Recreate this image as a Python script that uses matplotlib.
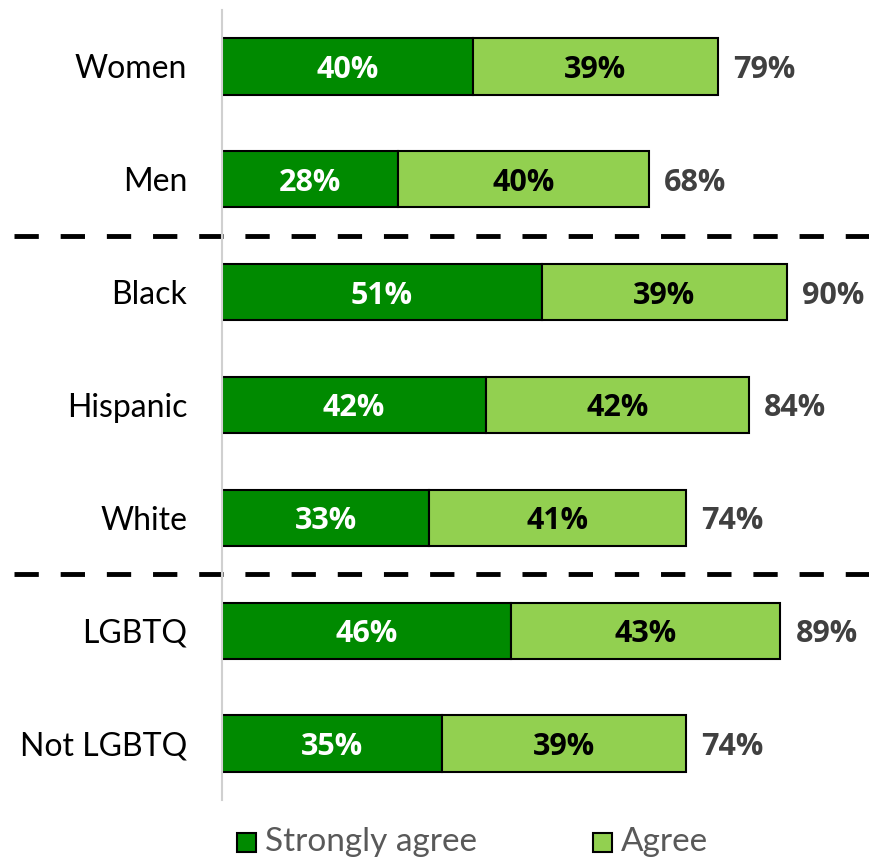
import matplotlib
matplotlib.use("Agg")
import matplotlib.pyplot as plt
from matplotlib.transforms import blended_transform_factory
from matplotlib.patches import Rectangle

plt.rcParams['font.family'] = ['Lato', 'DejaVu Sans']

categories = ["Women", "Men", "Black", "Hispanic", "White", "LGBTQ", "Not LGBTQ"]
strongly_agree = [40, 28, 51, 42, 33, 46, 35]
agree = [39, 40, 39, 42, 41, 43, 39]
totals = [79, 68, 90, 84, 74, 89, 74]
group_breaks = [1.5, 4.5]

dark_green = "#008A00"
light_green = "#92D050"

W, H = 869, 861
fig = plt.figure(figsize=(W / 100, H / 100), dpi=100)
ax = fig.add_axes([222 / W, 1 - 800 / H, 1 - 222 / W, 790 / H])

y = list(range(len(categories)))
ax.barh(y, strongly_agree, height=0.5, color=dark_green, edgecolor="black", linewidth=1.5)
ax.barh(y, agree, left=strongly_agree, height=0.5, color=light_green, edgecolor="black", linewidth=1.5)

fs = 23
bold = dict(fontsize=22, fontweight="bold", family=["Open Sans", "DejaVu Sans"])
dy = 0.03  # nudge labels to sit optically centred in the bars
for i in y:
    s, a, t = strongly_agree[i], agree[i], totals[i]
    ax.text(s / 2, i + dy, f"{s}%", ha="center", va="center", color="white", **bold)
    ax.text(s + a / 2, i + dy, f"{a}%", ha="center", va="center", color="black", **bold)
    ax.text(s + a + 2.4, i + dy, f"{t}%", ha="left", va="center", color="#404040", **bold)

ax.set_xlim(0, (W - 222) / 6.275)
ax.set_ylim(len(categories) - 0.5, -0.5)
ax.set_yticks(y)
ax.set_yticklabels(categories, fontsize=fs, color="black")
ax.tick_params(axis="y", length=0, pad=25)
ax.set_xticks([])
for side in ["top", "right", "bottom"]:
    ax.spines[side].set_visible(False)
ax.spines["left"].set_color("#D0D0D0")
ax.spines["left"].set_linewidth(1.5)

# dashed separators between groups, spanning the full figure width
trans = blended_transform_factory(fig.transFigure, ax.transData)
for yb in group_breaks:
    ax.plot([14 / W, 1.0], [yb, yb], transform=trans, color="black",
            linewidth=3.5, linestyle=(0, (5, 4.5)), clip_on=False)

# legend
ly = 1 - 842 / H
sq = 19
for x0, col, label in [(237, dark_green, "Strongly agree"), (593, light_green, "Agree")]:
    fig.patches.append(Rectangle((x0 / W, ly - sq / 2 / H), sq / W, sq / H,
                                 transform=fig.transFigure, facecolor=col,
                                 edgecolor="black", linewidth=1.5))
    fig.text((x0 + sq + 9) / W, ly, label, ha="left", va="center",
             fontsize=24, color="#595959")

fig.savefig("out.png", dpi=100)
